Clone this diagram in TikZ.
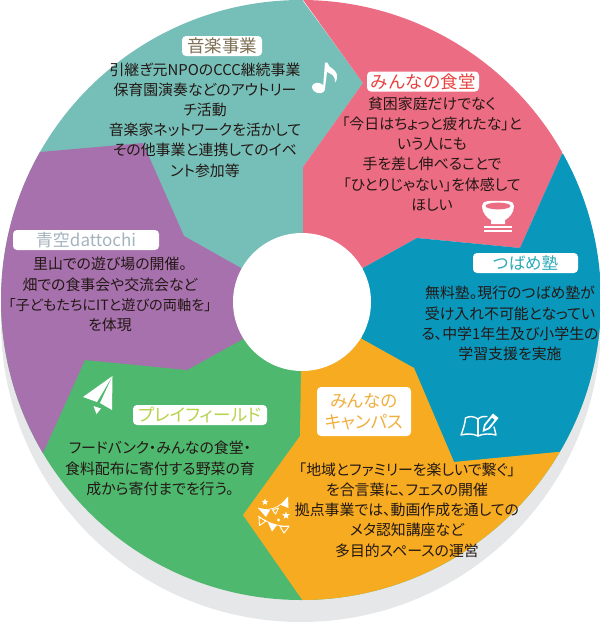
\documentclass[tikz,border=0pt]{standalone}
\usepackage{fontspec}
\usetikzlibrary{shapes.geometric}
\setmainfont[RawFeature=+palt]{Noto Sans CJK JP}
\newfontfamily\solidjp{Noto Sans CJK JP}
\definecolor{cshadow}{HTML}{E6E7E8}
\definecolor{cteal}{HTML}{76BFB8}
\definecolor{cred}{HTML}{EC6C83}
\definecolor{cblue}{HTML}{0A97BC}
\definecolor{corange}{HTML}{F6AB21}
\definecolor{cgreen}{HTML}{4FB86F}
\definecolor{cpurple}{HTML}{A671AC}
\definecolor{cbody}{HTML}{231815}
\definecolor{tbrown}{HTML}{7D7054}
\definecolor{tred}{HTML}{E8423F}
\definecolor{tteal}{HTML}{2AA9B8}
\definecolor{tgrey}{HTML}{A4B3BD}
\definecolor{tlime}{HTML}{B6D34D}
\definecolor{tamber}{HTML}{F0B040}
\tikzset{
  body/.style={text=cbody,align=center,inner sep=0pt,font=\fontsize{14.9}{20.2}\selectfont},
  tag/.style={fill=white,rounded corners=4pt,inner sep=0pt,align=center,font=\fontsize{17.5}{21}\selectfont},
  icon/.style={fill=white,draw=none},
  iconline/.style={draw=white,fill=none,line width=1.4pt,line join=round,line cap=round}
}
\begin{document}
\begin{tikzpicture}[x=1pt,y=-1pt]
\useasboundingbox (0,0) rectangle (600,622);
\fill[cshadow] (301,322) circle[radius=300];
\begin{scope}
  \clip (301,300) circle[radius=300];
  \fill[cgreen] (-10,300) rectangle (610,640);
  \fill[cteal] (-10,-10) rectangle (303,300);
  \fill[cteal] (295,-10) -- (363,83) -- (303,167) -- cycle;
  % purple
  \fill[cpurple] (20,155) -- (40,152) -- (143,143) -- (184,236) -- (241,268) -- (243,339) -- (187,370) -- (85,360) -- (43,453) -- (-20,560) -- (-20,155) -- cycle;
  % red
  \fill[cred] (296,-10) -- (363,83) -- (303,167) -- (303,233) -- (363,268) -- (417,238) -- (520,248) -- (562,154) -- (600,70) -- (600,-10) -- cycle;
  % blue
  \fill[cblue] (562,154) -- (520,248) -- (417,238) -- (363,268) -- (362,339) -- (414,368) -- (454,462) -- (558,452) -- (640,445) -- (640,100) -- cycle;
  % orange
  \fill[corange] (558,452) -- (454,462) -- (414,368) -- (362,339) -- (302,300) -- (300,436) -- (243,515) -- (303,601) -- (310,640) -- (640,640) -- (640,445) -- cycle;
\end{scope}
\fill[white] (302,302) circle[radius=69];

% icons
% note
\fill[icon,rotate around={-20:(318.5,88)}] (318.5,88) ellipse[x radius=6.6,y radius=5];
\fill[icon] (323,88) -- (325,62.5) -- (327.5,62.5) .. controls (328,69) and (338,68) .. (337,78) .. controls (336.8,80) and (336,81.5) .. (335,82.5) .. controls (335.5,75) and (331,74) .. (327,72) -- (325,88) -- cycle;
% bowl
\fill[icon] (482,206) .. controls (482,200) and (490,201) .. (498,201) .. controls (506,201) and (514,200) .. (514,206) .. controls (514,213) and (509,218) .. (505,220) -- (505,224) -- (491,224) -- (491,220) .. controls (487,218) and (482,213) .. (482,206) -- cycle;
\fill[cred] (498,206) ellipse[x radius=12.5,y radius=3.4];
\fill[icon] (484,226) rectangle (512,228);
\fill[icon] (484,230) rectangle (512,232);
% book
\draw[iconline] (478,419) .. controls (474,416) and (469,416) .. (465.5,418) .. controls (465,424) and (463,430) .. (461,435) .. controls (467,433.5) and (473,433.5) .. (478,436) .. controls (483,433.5) and (490,433.5) .. (496,435) .. controls (495.5,432) and (494.5,429) .. (494,427);
\draw[iconline] (478,419) -- (478,436);
\draw[iconline] (478,419) .. controls (481,416.5) and (484,416) .. (487,416.5);
\fill[icon] (482.5,432) -- (484,424.5) -- (493,413.5) -- (498.5,418) -- (489.5,429) -- cycle;
\fill[cblue] (485,429) -- (485.6,425.6) -- (492,417.8) -- (494.5,419.8) -- (488.2,427.6) -- cycle;
% plane
\fill[icon] (112.5,376) -- (83,397) -- (97,402) -- cycle;
\fill[icon] (112.5,376) -- (100,403) -- (112,410) -- cycle;
\fill[icon] (93.5,406) -- (101,408.5) -- (96.5,414) -- cycle;
% bunting
\draw[draw=white,line width=0.7pt] (258,508) .. controls (268,512) and (280,508) .. (288,497);
\fill[icon] (258,508) -- (270,510) -- (266,517) -- cycle;
\draw[iconline,line width=0.9pt] (272.5,510) -- (278.5,508) -- (275.5,514) -- cycle;
\fill[icon] (281,505) -- (288,497) -- (288.5,508) -- cycle;
\draw[draw=white,line width=0.7pt] (258,516) .. controls (266,522) and (278,527) .. (289,526);
\draw[iconline,line width=0.9pt] (259,517) -- (266,521) -- (259.5,525.5) -- cycle;
\fill[icon] (268,522.5) -- (277,525) -- (272,531.5) -- cycle;
\draw[iconline,line width=0.9pt] (280,526.5) -- (289,526.5) -- (284,533) -- cycle;
\node[icon,star,star points=5,star point ratio=2.4,minimum size=7pt,inner sep=0pt] (starA) at (265,502) {};
\node[icon,star,star points=5,star point ratio=2.4,minimum size=8pt,inner sep=0pt] (starB) at (286,515.5) {};
\fill[icon] (278.5,520) circle[radius=1.7];

% labels
\node[tag,text=tbrown,minimum width=80pt,minimum height=20pt] (tagA) at (222,46) {音楽事業};
\node[tag,text=tred,minimum width=112pt,minimum height=20pt,font=\solidjp\fontsize{17.5}{21}\selectfont] (tagB) at (423,81.5) {みんなの食堂};
\node[tag,text=tteal,minimum width=105pt,minimum height=20pt,font=\fontsize{16.5}{21}\selectfont] (tagC) at (525.5,263) {つばめ塾};
\node[tag,text=tgrey,minimum width=146pt,minimum height=20pt,font=\fontsize{17}{21}\selectfont] (tagD) at (86,240) {青空dattochi};
\node[tag,text=tlime,minimum width=134pt,minimum height=20pt] (tagE) at (200,415) {プレイフィールド};
\node[tag,text=tamber,minimum width=94pt,minimum height=49pt] (tagF) at (364,411.5) {みんなの\\キャンパス};

% texts
\node[body] (txtA) at (205,120) {引継ぎ元NPOのCCC継続事業\\保育園演奏などのアウトリー\\チ活動\\音楽家ネットワークを活かして\\その他事業と連携してのイベ\\ント参加等};
\node[body] (txtB) at (432,154) {貧困家庭だけでなく\\「今日はちょっと疲れたな」と\\いう人にも\\手を差し伸べることで\\「ひとりじゃない」を体感して\\ほしい};
\node[body] (txtC) at (510,323.5) {無料塾。現行のつばめ塾が\\受け入れ不可能となってい\\る、中学1年生及び小学生の\\学習支援を実施};
\node[body] (txtD) at (110,294.5) {里山での遊び場の開催。\\畑での食事会や交流会など\\{\fontsize{14.2}{20.2}\selectfont 「子どもたちにITと遊びの両軸を」}\\を体現};
\node[body] (txtE) at (160,468.5) {フードバンク・みんなの食堂・\\食料配布に寄付する野菜の育\\成から寄付までを行う。};
\node[body] (txtF) at (407,510) {「地域とファミリーを楽しいで繋ぐ」\\を合言葉に、フェスの開催\\拠点事業では、動画作成を通しての\\メタ認知講座など\\多目的スペースの運営};
\end{tikzpicture}
\end{document}
